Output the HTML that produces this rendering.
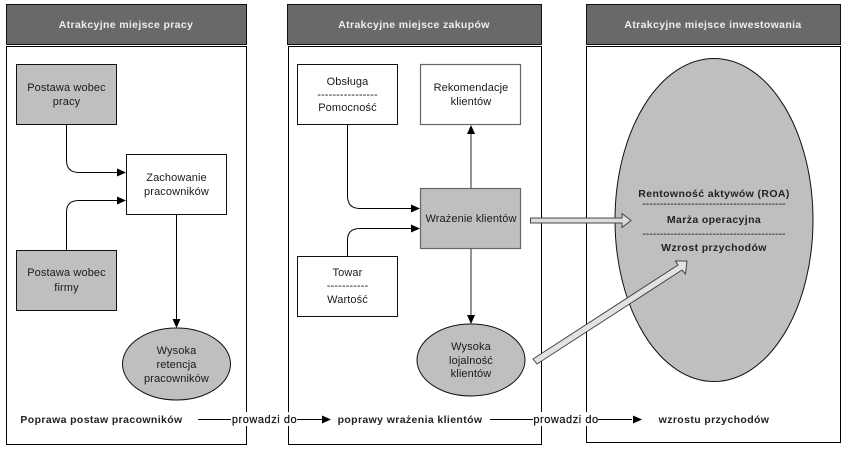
<!DOCTYPE html>
<html lang="pl"><head><meta charset="utf-8"><style>
html,body{margin:0;padding:0;background:#fff}
svg{display:block}
text{font-family:"Liberation Sans",Arial,sans-serif;font-size:11px;fill:#1a1a1a;text-anchor:middle}
.h{font-weight:bold;fill:#eee;letter-spacing:.35px;font-size:10.5px}
.b{font-weight:bold;letter-spacing:.38px;font-size:10.5px;fill:#222}
.t{font-size:11px;letter-spacing:.12px}
.p{font-size:11px;letter-spacing:.55px;fill:#111;stroke:#111;stroke-width:.2px}
.d{font-size:10.5px;fill:#111}
</style></head><body>
<svg width="846" height="450" viewBox="0 0 846 450" xmlns="http://www.w3.org/2000/svg">
<g fill="#696969" stroke="#111" stroke-width="1">
<rect x="6.500" y="4.500" width="240" height="40"/>
<rect x="287.500" y="4.500" width="254" height="40"/>
<rect x="586.500" y="4.500" width="254" height="40"/>
</g>
<text class="h" x="126" y="28">Atrakcyjne miejsce pracy</text>
<text class="h" x="414" y="28">Atrakcyjne miejsce zakupów</text>
<text class="h" x="713" y="28">Atrakcyjne miejsce inwestowania</text>
<g fill="#fff" stroke="#000" stroke-width="1">
<rect x="6.500" y="46.500" width="240" height="398"/>
<rect x="288.500" y="46.500" width="253" height="398"/>
<rect x="586.500" y="46.500" width="254" height="396"/>
</g>
<ellipse cx="714" cy="220" rx="99" ry="161.500" fill="#bfbfbf" stroke="#111" stroke-width="1"/>
<g fill="none" stroke="#000" stroke-width="1">
<path d="M66.500 124V160Q66.500 172.500 79 172.500H118"/>
<path d="M66.500 250V212Q66.500 200.500 79 200.500H118"/>
<path d="M176.500 214V320"/>
<path d="M347.500 124V196Q347.500 208.500 360 208.500H412"/>
<path d="M347.500 256V240Q347.500 228.500 360 228.500H412"/>
<path d="M198 419.500H231"/><path d="M297 419.500H322"/>
<path d="M490 419.500H533"/><path d="M598 419.500H632"/>
</g>
<g fill="none" stroke="#707070" stroke-width="1.500">
<path d="M471 188V134"/><path d="M471 248V316"/>
</g>
<g fill="#000">
<path d="M126 172.500L117 168.500V176.500Z"/>
<path d="M126 200.500L117 196.500V204.500Z"/>
<path d="M176.500 328L172.500 319H180.500Z"/>
<path d="M420 208.500L411 204.500V212.500Z"/>
<path d="M420 228.500L411 224.500V232.500Z"/>
<path d="M471 125L467 134H475Z"/>
<path d="M471 324L467 315H475Z"/>
<path d="M331 419.500L322 415.500V423.500Z"/>
<path d="M642 419.500L633 415.500V423.500Z"/>
</g>
<g stroke="#111" stroke-width="1" fill="#bfbfbf">
<rect x="16.500" y="64.500" width="100" height="60"/>
<rect x="16.500" y="250.500" width="100" height="60"/>
<ellipse cx="176.500" cy="364" rx="54" ry="36"/>
<ellipse cx="471" cy="360" rx="54" ry="36"/>
</g>
<g stroke="#111" stroke-width="1" fill="#fff">
<rect x="126.500" y="154.500" width="100" height="60"/>
<rect x="297.500" y="64.500" width="100" height="60"/>
<rect x="297.500" y="256.500" width="100" height="60"/>
</g>
<rect x="420.500" y="64.500" width="100" height="60" fill="#fff" stroke="#666" stroke-width="1.200"/>
<rect x="420.500" y="188.500" width="100" height="60" fill="#bfbfbf" stroke="#666" stroke-width="1.200"/>
<path d="M530.500 218H622V213.500L631 220.500L622 227.500V223H530.500Z" fill="#dcdcdc" stroke="#444" stroke-width="1"/>
<path d="M533 359L678 265L675.500 261L687 261L685.500 274L682 270L537 364Z" fill="#e2e2e2" stroke="#444" stroke-width="1"/>
<text class="t" x="66.500" y="91">Postawa wobec</text>
<text class="t" x="66.500" y="105">pracy</text>
<text class="t" x="176.500" y="181">Zachowanie</text>
<text class="t" x="176.500" y="195">pracowników</text>
<text class="t" x="66.500" y="276">Postawa wobec</text>
<text class="t" x="66.500" y="291">firmy</text>
<text class="t" x="176.500" y="354">Wysoka</text>
<text class="t" x="176.500" y="368">retencja</text>
<text class="t" x="176.500" y="382">pracowników</text>
<text class="t" x="347.500" y="85">Obsługa</text>
<text class="t" x="347.500" y="98">----------------</text>
<text class="t" x="347.500" y="111">Pomocność</text>
<text class="t" x="471" y="91">Rekomendacje</text>
<text class="t" x="471" y="105">klientów</text>
<text class="t" x="471" y="222">Wrażenie klientów</text>
<text class="t" x="347.500" y="276">Towar</text>
<text class="t" x="347.500" y="289">-----------</text>
<text class="t" x="347.500" y="303">Wartość</text>
<text class="t" x="471" y="350">Wysoka</text>
<text class="t" x="471" y="364">lojalność</text>
<text class="t" x="471" y="377">klientów</text>
<text class="b" x="714" y="197">Rentowność aktywów (ROA)</text>
<text class="d" x="714" y="207">-----------------------------------------</text>
<text class="b" x="714" y="223">Marża operacyjna</text>
<text class="d" x="714" y="237">-----------------------------------------</text>
<text class="b" x="714" y="251">Wzrost przychodów</text>
<rect x="231" y="412" width="66" height="14" fill="#fff"/>
<rect x="533" y="412" width="65" height="14" fill="#fff"/>
<text class="b" x="101.500" y="423">Poprawa postaw pracowników</text>
<text class="p" x="264.500" y="423">prowadzi do</text>
<text class="b" x="410" y="423">poprawy wrażenia klientów</text>
<text class="p" x="566" y="423">prowadzi do</text>
<text class="b" x="714" y="423">wzrostu przychodów</text>
</svg>
</body></html>
